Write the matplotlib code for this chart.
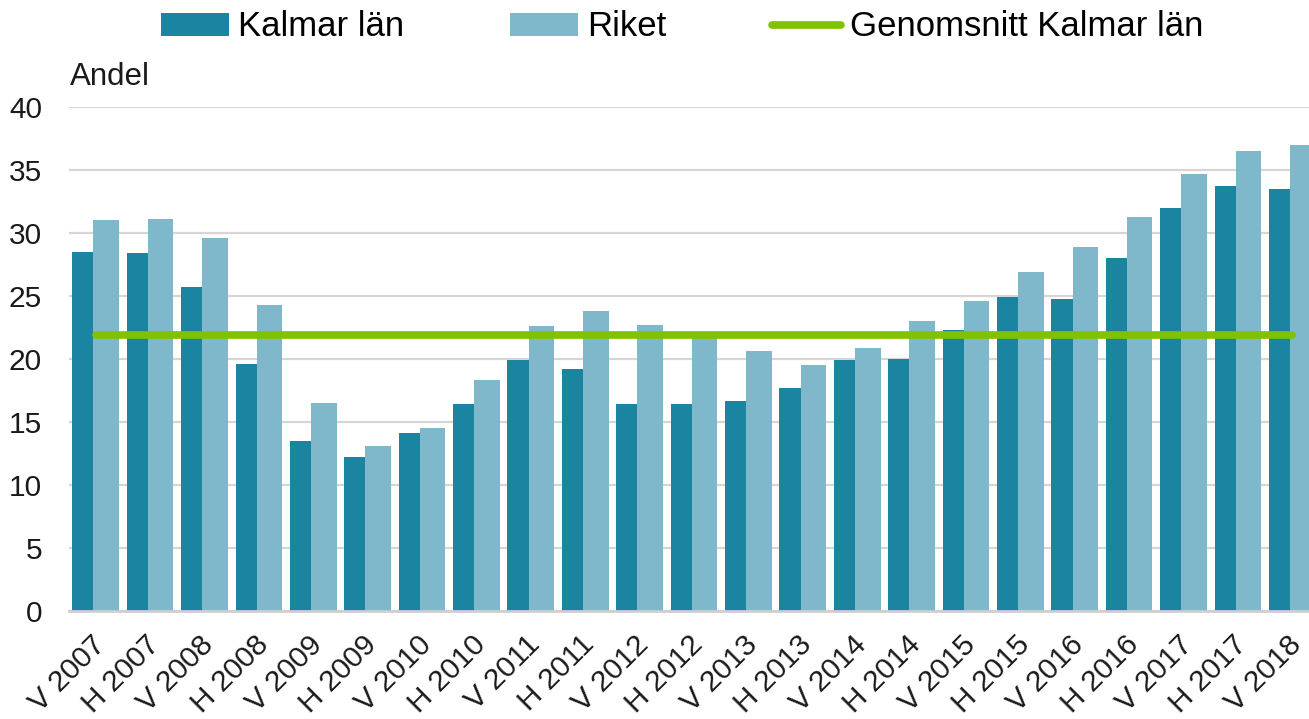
import matplotlib
matplotlib.use("Agg")
import matplotlib.pyplot as plt
from matplotlib.patches import Patch
from matplotlib.lines import Line2D
import matplotlib.transforms as mtransforms
import numpy as np

plt.rcParams['font.family'] = ['Liberation Sans', 'DejaVu Sans']

categories = ["V 2007", "H 2007", "V 2008", "H 2008", "V 2009", "H 2009",
              "V 2010", "H 2010", "V 2011", "H 2011", "V 2012", "H 2012",
              "V 2013", "H 2013", "V 2014", "H 2014", "V 2015", "H 2015",
              "V 2016", "H 2016", "V 2017", "H 2017", "V 2018"]
kalmar = [28.5, 28.4, 25.7, 19.6, 13.5, 12.2, 14.1, 16.4, 19.9, 19.2, 16.4, 16.4,
          16.7, 17.7, 19.9, 20.0, 22.3, 24.9, 24.8, 28.0, 32.0, 33.7, 33.5]
riket = [31.0, 31.1, 29.6, 24.3, 16.5, 13.1, 14.5, 18.3, 22.6, 23.8, 22.7, 21.7,
         20.6, 19.5, 20.9, 23.0, 24.6, 26.9, 28.9, 31.3, 34.7, 36.5, 37.0]
genomsnitt = 21.9
yticks = [0, 5, 10, 15, 20, 25, 30, 35, 40]

c_kalmar = "#1B84A1"
c_riket = "#7FB8CA"
c_line = "#80C200"

W, H = 1309, 719
fig = plt.figure(figsize=(W / 100, H / 100), dpi=100)
ax = fig.add_axes([68.5 / W, 108 / H, 1251 / W, 504 / H])

x = np.arange(len(categories))
bw = 0.47
off = 0.194
ax.bar(x - off, kalmar, width=bw, color=c_kalmar, zorder=2)
ax.bar(x + off, riket, width=bw, color=c_riket, zorder=3)
ax.plot(x, [genomsnitt] * len(x), color=c_line, lw=5.5, solid_capstyle='round', zorder=4)

ax.set_xlim(-0.5, len(categories) - 0.5)
ax.set_ylim(0, 40)
ax.set_yticks(yticks)
ax.set_yticklabels([str(v) for v in yticks])
ax.yaxis.grid(True, color="#D6D6D6", lw=1.6, zorder=0)
ax.set_axisbelow(True)
for s in ["top", "right", "left"]:
    ax.spines[s].set_visible(False)
ax.spines["bottom"].set_color("#CFCFCF")
ax.spines["bottom"].set_linewidth(2)
ax.spines["bottom"].set_zorder(5)

ax.tick_params(axis='y', length=0, pad=19, labelsize=21.5, labelcolor="#1a1a1a")
ax.tick_params(axis='x', length=0, pad=14, labelsize=21.5, labelcolor="#1a1a1a")
ax.set_xticks(x)
ax.set_xticklabels(categories, rotation=45, ha='right', va='top', rotation_mode='anchor')
offset = mtransforms.ScaledTranslation(-5 / 100, 0, fig.dpi_scale_trans)
for lab in ax.get_xticklabels():
    lab.set_transform(lab.get_transform() + offset)

fig.text(70 / W, 1 - 77 / H, "Andel", fontsize=22.5, va='center', ha='left', color="#1a1a1a")

handles = [Patch(facecolor=c_kalmar, edgecolor='none'),
           Patch(facecolor=c_riket, edgecolor='none'),
           Line2D([0], [0], color=c_line, lw=5.5, solid_capstyle='round')]
labels = ["Kalmar län", "Riket", "Genomsnitt Kalmar län"]
fig.legend(handles, labels, loc='center', bbox_to_anchor=(682 / W, 1 - 27 / H),
           ncol=3, frameon=False, fontsize=25, handlelength=1.96, handleheight=0.63,
           handletextpad=0.26, columnspacing=3.05, borderpad=0, borderaxespad=0)

fig.savefig("out.png", dpi=100)
